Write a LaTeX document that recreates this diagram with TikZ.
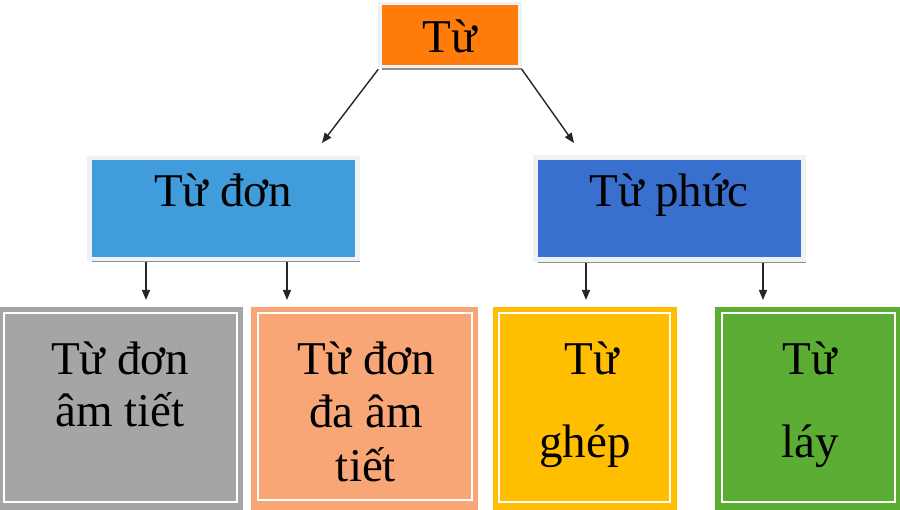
\documentclass[tikz,border=0pt]{standalone}
\usepackage{fontspec}
\setmainfont{Liberation Serif}
\usetikzlibrary{arrows.meta,shadows}
\definecolor{topor}{HTML}{FF7B0A}
\definecolor{blueA}{HTML}{419CDC}
\definecolor{blueB}{HTML}{3A70CD}
\definecolor{grayC}{HTML}{A5A5A5}
\definecolor{salmonC}{HTML}{F9A677}
\definecolor{goldC}{HTML}{FFBF00}
\definecolor{greenC}{HTML}{5CAD33}
\definecolor{frameC}{HTML}{EEF1F5}
\begin{document}
\begin{tikzpicture}[x=1pt,y=-1pt,
  lbl/.style={anchor=base,inner sep=0pt,font=\fontsize{47}{52}\selectfont},
  upbox/.style={rectangle,inner sep=0pt,draw=frameC,
    drop shadow={shadow xshift=2pt,shadow yshift=-3.5pt,fill=black!55,opacity=0.8}},
  lowbox/.style={rectangle,inner sep=0pt,draw=none},
  inframe/.style={draw=white,line width=2pt},
  arr/.style={-{Triangle[length=10pt,width=8pt]},line width=1.4pt,black!85}]
\useasboundingbox (0,0) rectangle (900,510);
% top
\node[upbox,fill=topor,line width=3.5pt,minimum width=140pt,minimum height=63pt] (tu) at (450,35) {};
\node[lbl] (tutext) at (450,52.5) {Từ};
% middle
\node[upbox,fill=blueA,line width=4.5pt,minimum width=268pt,minimum height=101pt] (don) at (223.5,208.5) {};
\node[lbl] (dontext) at (223,207) {Từ đơn};
\node[upbox,fill=blueB,line width=4.5pt,minimum width=268pt,minimum height=102pt] (phuc) at (669.5,208.5) {};
\node[lbl] (phuctext) at (669,207) {Từ phức};
% bottom
\node[lowbox,fill=grayC,minimum width=243pt,minimum height=205pt] (g) at (121.5,409.5) {};
\draw[inframe] (4,313) rectangle (237,502);
\node[lbl] (g1) at (120,375) {Từ đơn};
\node[lbl] (g2) at (120,427) {âm tiết};
\node[lowbox,fill=salmonC,minimum width=227pt,minimum height=205pt] (o) at (364.5,409.5) {};
\draw[inframe] (258,313) rectangle (472,500);
\node[lbl] (o1) at (366,375) {Từ đơn};
\node[lbl] (o2) at (366,428) {đa âm};
\node[lbl] (o3) at (366,482) {tiết};
\node[lowbox,fill=goldC,minimum width=184pt,minimum height=205pt] (y) at (585,409.5) {};
\draw[inframe] (499,313) rectangle (670,502);
\node[lbl] (y1) at (592,375) {Từ};
\node[lbl] (y2) at (585,458) {ghép};
\node[lowbox,fill=greenC,minimum width=187pt,minimum height=205pt] (gr) at (808.5,409.5) {};
\draw[inframe] (722,313) rectangle (895,502);
\node[lbl] (gr1) at (810,375) {Từ};
\node[lbl] (gr2) at (810,457) {láy};
% arrow ends
\coordinate (e1) at (322,143);
\coordinate (e2) at (574,143);
\coordinate (e3) at (146,300);
\coordinate (e4) at (287,300);
\coordinate (e5) at (586,300);
\coordinate (e6) at (763,300);
\draw[arr] ([shift={(0,1)}]tu.south west) -- (e1);
\draw[arr] ([shift={(0,1)}]tu.south east) -- (e2);
\draw[arr] ([yshift=-1pt]don.south -| e3) -- (e3);
\draw[arr] ([yshift=-1pt]don.south -| e4) -- (e4);
\draw[arr] ([yshift=-1pt]phuc.south -| e5) -- (e5);
\draw[arr] ([yshift=-1pt]phuc.south -| e6) -- (e6);
\end{tikzpicture}
\end{document}
